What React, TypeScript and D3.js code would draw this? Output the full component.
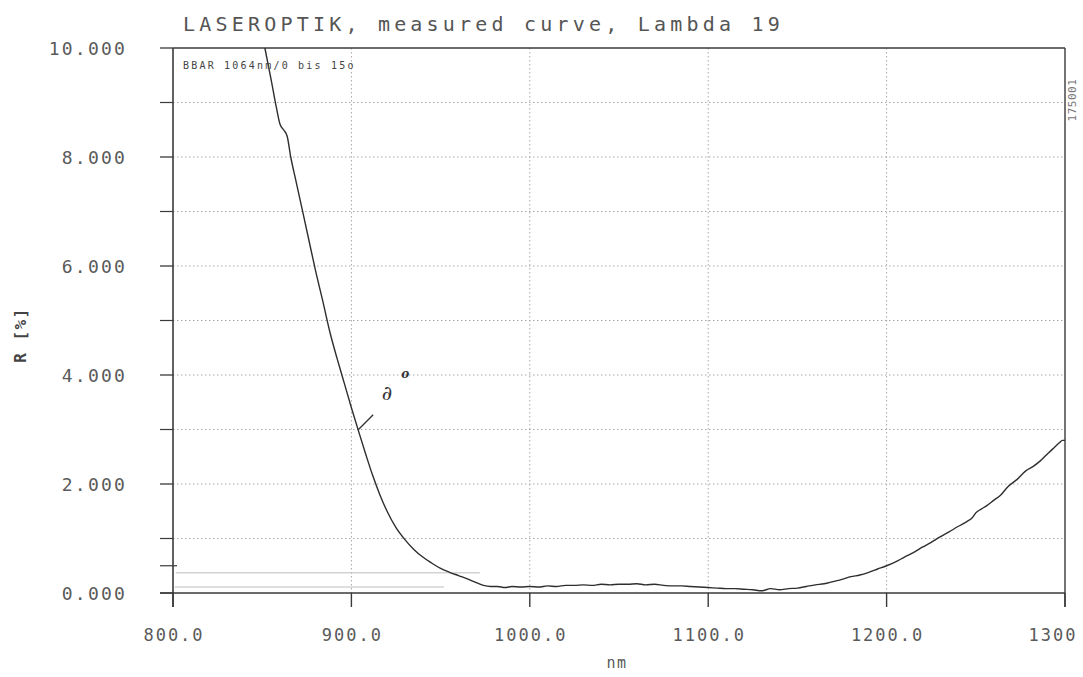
import React from "react";
import * as d3 from "d3";

const title = "LASEROPTIK, measured curve, Lambda 19";
const sampleLabel = "BBAR 1064nm/0 bis 15o";
const sideLabel = "175001";
const xLabel = "nm";
const yLabel = "R [%]";

const xTicks = [800, 900, 1000, 1100, 1200, 1300];
const xTickLabels = ["800.0", "900.0", "1000.0", "1100.0", "1200.0", "1300"];
const yTicks = [0, 2, 4, 6, 8, 10];
const yTickLabels = ["0.000", "2.000", "4.000", "6.000", "8.000", "10.000"];
const yMinorTicks = [0.5, 1, 3, 5, 7, 9];
const yGrid = [1, 2, 3, 4, 5, 6, 7, 8, 9];
const xGrid = [900, 1000, 1100, 1200];

const wavelength = [
  851.5, 855, 858, 860, 862, 864, 866, 869, 873, 876, 880, 884, 888, 892, 896, 900,
  904, 908, 912, 916, 920, 925, 930, 935, 940, 945, 950, 955, 960, 965, 970, 974, 978,
  982, 986, 990, 995, 1000, 1005, 1010, 1015, 1020, 1025, 1030, 1035, 1040, 1045, 1050,
  1055, 1060, 1065, 1070, 1075, 1080, 1085, 1090, 1095, 1100, 1105, 1110, 1115, 1120,
  1125, 1130, 1135, 1140, 1145, 1150, 1155, 1160, 1165, 1170, 1175, 1180, 1185, 1190,
  1195, 1200, 1205, 1210, 1215, 1220, 1225, 1230, 1235, 1240, 1245, 1248, 1250, 1253,
  1256, 1260, 1264, 1268, 1273, 1278, 1282, 1286, 1291, 1294, 1297, 1298.5, 1300,
];
const reflectance = [
  10.0, 9.42, 8.9, 8.6, 8.5, 8.38, 8.0, 7.55, 6.95, 6.5, 5.9, 5.35, 4.78, 4.3, 3.85, 3.4,
  2.97, 2.55, 2.15, 1.8, 1.5, 1.2, 0.98, 0.8, 0.66, 0.55, 0.45, 0.38, 0.32, 0.26, 0.19, 0.14, 0.12,
  0.12, 0.1, 0.12, 0.11, 0.12, 0.11, 0.13, 0.12, 0.14, 0.14, 0.15, 0.14, 0.16, 0.15, 0.16,
  0.16, 0.17, 0.15, 0.16, 0.14, 0.13, 0.13, 0.12, 0.11, 0.1, 0.09, 0.08, 0.08, 0.07,
  0.06, 0.04, 0.08, 0.06, 0.08, 0.09, 0.12, 0.15, 0.17, 0.21, 0.25, 0.3, 0.33, 0.38,
  0.44, 0.5, 0.57, 0.66, 0.74, 0.84, 0.93, 1.03, 1.12, 1.22, 1.31, 1.38, 1.47, 1.54,
  1.6, 1.7, 1.8, 1.95, 2.08, 2.24, 2.32, 2.42, 2.58, 2.67, 2.76, 2.8, 2.8,
];

// faint reference lines near the bottom of the plot
const refLines = [
  { r: 0.37, from: 801.5, to: 972 },
  { r: 0.11, from: 801, to: 952 },
];

// handwritten annotation
const annotLine = [
  [903.7, 2.99],
  [912.2, 3.27],
];
const annotText = { nm: 917, r: 3.55, text: "∂" };
const annotDeg = { nm: 928, r: 3.95, text: "o" };

const W = 1083;
const H = 677;
const left = 173;
const right = 1065;
const top = 48;
const bottom = 593;

export default function App() {
  const x = d3.scaleLinear().domain([800, 1300]).range([left, right]);
  const y = d3.scaleLinear().domain([0, 10]).range([bottom, top]);

  const pts: [number, number][] = wavelength.map((w, i) => [w, reflectance[i]]);
  const line = d3
    .line<[number, number]>()
    .x((d) => x(d[0]))
    .y((d) => y(d[1]))
    .curve(d3.curveMonotoneX);

  const mono = "'DejaVu Sans Mono', monospace";
  const axisColor = "#3a3a3a";
  const textColor = "#5a5a5a";

  return (
    <div style={{ position: "absolute", left: 0, top: 0 }}>
      <svg width={W} height={H} style={{ display: "block", background: "#fff" }}>
        {/* grid */}
        {yGrid.map((g) => (
          <line
            key={"yg" + g}
            x1={left}
            x2={right}
            y1={y(g)}
            y2={y(g)}
            stroke="#a8a8a8"
            strokeWidth={1}
            strokeDasharray="1.5,2.5"
          />
        ))}
        {xGrid.map((g) => (
          <line
            key={"xg" + g}
            x1={x(g)}
            x2={x(g)}
            y1={top}
            y2={bottom}
            stroke="#a8a8a8"
            strokeWidth={1}
            strokeDasharray="1.5,2.5"
          />
        ))}

        {/* faint lines */}
        {refLines.map((r, i) => (
          <line
            key={"ref" + i}
            x1={x(r.from)}
            x2={x(r.to)}
            y1={y(r.r)}
            y2={y(r.r)}
            stroke="#bdbdbd"
            strokeWidth={1}
          />
        ))}

        {/* frame */}
        <line x1={left} x2={right} y1={top} y2={top} stroke={axisColor} strokeWidth={1.4} />
        <line x1={right} x2={right} y1={top} y2={bottom + 14} stroke={axisColor} strokeWidth={1.4} />
        <line x1={left} x2={left} y1={top} y2={bottom + 14} stroke={axisColor} strokeWidth={1.6} />
        <line x1={left - 13} x2={right} y1={bottom} y2={bottom} stroke={axisColor} strokeWidth={1.6} />

        {/* y ticks */}
        {yTicks.map((t, i) => (
          <g key={"yt" + t}>
            <line x1={left - 13} x2={left} y1={y(t)} y2={y(t)} stroke={axisColor} strokeWidth={1.3} />
            <text
              x={127}
              y={y(t) + 7}
              textAnchor="end"
              fontFamily={mono}
              fontSize={18}
              letterSpacing={2.2}
              fill={textColor}
            >
              {yTickLabels[i]}
            </text>
          </g>
        ))}
        {yMinorTicks.map((t) => (
          <line
            key={"ym" + t}
            x1={left - 13}
            x2={t === 0.5 ? left + 4 : left}
            y1={y(t)}
            y2={y(t)}
            stroke={axisColor}
            strokeWidth={1.2}
          />
        ))}

        {/* x ticks */}
        {xTicks.map((t, i) => (
          <g key={"xt" + t}>
            <line x1={x(t)} x2={x(t)} y1={bottom} y2={bottom + 14} stroke={axisColor} strokeWidth={1.4} />
            <text
              x={x(t) + (t === 1300 ? -12 : 1)}
              y={641}
              textAnchor="middle"
              fontFamily={mono}
              fontSize={17}
              letterSpacing={2}
              fill={textColor}
            >
              {xTickLabels[i]}
            </text>
          </g>
        ))}

        {/* curve */}
        <path d={line(pts) || ""} fill="none" stroke="#2e2e2e" strokeWidth={1.4} strokeLinejoin="round" />

        {/* annotation */}
        <line
          x1={x(annotLine[0][0])}
          y1={y(annotLine[0][1])}
          x2={x(annotLine[1][0])}
          y2={y(annotLine[1][1])}
          stroke="#333"
          strokeWidth={1.3}
        />
        <text
          x={x(annotText.nm)}
          y={y(annotText.r)}
          fontFamily="'DejaVu Serif', serif"
          fontStyle="italic"
          fontSize={20}
          fill="#333"
        >
          {annotText.text}
        </text>
        <text
          x={x(annotDeg.nm)}
          y={y(annotDeg.r)}
          fontFamily="'DejaVu Serif', serif"
          fontStyle="italic"
          fontWeight="bold"
          fontSize={12}
          fill="#333"
        >
          {annotDeg.text}
        </text>

        {/* labels */}
        <text
          x={183}
          y={31}
          fontFamily={mono}
          fontSize={20}
          letterSpacing={4.2}
          fill="#555"
        >
          {title}
        </text>
        <text x={183} y={69} fontFamily={mono} fontSize={10} letterSpacing={2.2} fill="#444">
          {sampleLabel}
        </text>
        <text
          transform={`translate(1076, 100) rotate(-90)`}
          textAnchor="middle"
          fontFamily={mono}
          fontSize={11}
          letterSpacing={0.5}
          fill="#777"
        >
          {sideLabel}
        </text>
        <text
          x={617}
          y={668}
          textAnchor="middle"
          fontFamily={mono}
          fontSize={15}
          letterSpacing={1.5}
          fill={textColor}
        >
          {xLabel}
        </text>
        <text
          transform={`translate(26, 335) rotate(-90)`}
          textAnchor="middle"
          fontFamily={mono}
          fontSize={16}
          fontWeight="bold"
          letterSpacing={1.5}
          fill="#444"
        >
          {yLabel}
        </text>
      </svg>
    </div>
  );
}
